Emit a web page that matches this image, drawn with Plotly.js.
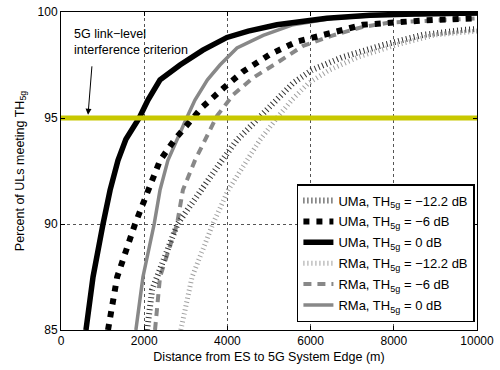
<!DOCTYPE html>
<html>
<head>
<meta charset="utf-8">
<script src="https://cdn.plot.ly/plotly-3.0.1.min.js"></script>
<style>html,body{margin:0;padding:0;background:#fff;}#chart{width:500px;height:370px;}</style>
</head>
<body>
<div id="chart"></div>
<script>
// Distance (m) and percent of ULs meeting TH_5g
var umaM12_x = [2070, 2190, 2800, 3350, 3870, 4230, 4740, 5140, 5580, 6030, 6780, 7740, 8700, 9660, 10000];
var umaM12_y = [85, 86.9, 90, 91.6, 93, 93.96, 95, 95.85, 96.65, 97.26, 97.88, 98.44, 98.92, 99.15, 99.2];

var umaM6_x = [1130, 1350, 1780, 2090, 2380, 2740, 3150, 3390, 3900, 4380, 5020, 5670, 6470, 7260, 8700, 10000];
var umaM6_y = [85, 87.5, 90, 91.6, 93, 94, 95, 95.5, 96.4, 97.2, 98.0, 98.6, 99.0, 99.4, 99.6, 99.7];

var uma0_x = [600, 770, 1010, 1180, 1370, 1560, 1880, 2090, 2380, 2860, 3410, 3990, 4500, 5190, 6390, 7430, 8500, 10000];
var uma0_y = [85, 87.5, 90, 91.6, 93, 94, 95, 95.85, 96.8, 97.5, 98.2, 98.8, 99.1, 99.4, 99.7, 99.85, 99.9, 99.95];

var rmaM12_x = [2880, 3150, 3650, 4020, 4470, 4780, 5190, 5550, 5950, 6450, 7150, 8050, 9000, 10000];
var rmaM12_y = [85, 87.5, 90, 91.6, 93, 93.96, 95, 95.85, 96.65, 97.26, 97.88, 98.44, 98.92, 99.1];

var rmaM6_x = [2260, 2380, 2790, 2930, 3220, 3460, 3750, 4140, 4620, 5190, 5820, 6540, 7260, 7900, 10000];
var rmaM6_y = [85, 87.5, 90, 91.6, 93, 94, 95.1, 96.1, 96.9, 97.6, 98.4, 98.9, 99.3, 99.5, 99.7];

var rma0_x = [1800, 1970, 2240, 2380, 2570, 2790, 3020, 3220, 3520, 3820, 4230, 4860, 5580, 6540, 7700, 10000];
var rma0_y = [85, 87.5, 90, 91.6, 93, 94, 95, 95.85, 96.8, 97.5, 98.3, 98.9, 99.4, 99.7, 99.85, 99.9];

var criterion_x = [0, 10000];
var criterion_y = [95, 95];

var seriesNames = [
  'UMa, TH<sub>5g</sub> = \u221212.2 dB',
  'UMa, TH<sub>5g</sub> = \u22126 dB',
  'UMa, TH<sub>5g</sub> = 0 dB',
  'RMa, TH<sub>5g</sub> = \u221212.2 dB',
  'RMa, TH<sub>5g</sub> = \u22126 dB',
  'RMa, TH<sub>5g</sub> = 0 dB'
];

var xTicks = [0, 2000, 4000, 6000, 8000, 10000];
var yTicks = [85, 90, 95, 100];

var traces = [
  {x: rmaM12_x, y: rmaM12_y, name: seriesNames[3], mode: 'lines', legendrank: 4, legendgroup: 'g4',
   line: {color: '#a0a0a0', width: 5, dash: '1px,3px'}},
  {x: rmaM6_x, y: rmaM6_y, name: seriesNames[4], mode: 'lines', legendrank: 5, legendgroup: 'g5',
   line: {color: '#888888', width: 4, dash: '8px,6px'}},
  {x: rma0_x, y: rma0_y, name: seriesNames[5], mode: 'lines', legendrank: 6, legendgroup: 'g6',
   line: {color: '#888888', width: 3.5}},
  {x: umaM12_x, y: umaM12_y, name: seriesNames[0], mode: 'lines', legendrank: 1, legendgroup: 'g1',
   line: {color: '#333333', width: 6, dash: '1px,3px'}},
  {x: umaM6_x, y: umaM6_y, name: seriesNames[1], mode: 'lines', legendrank: 2, legendgroup: 'g2',
   line: {color: '#000000', width: 6, dash: '6px,7px'}},
  {x: uma0_x, y: uma0_y, name: seriesNames[2], mode: 'lines', legendrank: 3, legendgroup: 'g3',
   line: {color: '#000000', width: 5.5}},
  {x: criterion_x, y: criterion_y, mode: 'lines', showlegend: false, hoverinfo: 'skip',
   line: {color: '#c8c800', width: 5}, cliponaxis: false}
];

var font = {family: 'Liberation Sans, Arial, sans-serif', size: 12, color: '#000'};

var layout = {
  width: 500, height: 370,
  margin: {l: 61, r: 23, t: 12, b: 40},
  paper_bgcolor: '#fff', plot_bgcolor: '#fff',
  font: font,
  showlegend: true,
  legend: {
    x: 0.995, y: 0.025, xanchor: 'right', yanchor: 'bottom',
    bgcolor: '#fff', bordercolor: '#000', borderwidth: 1.5,
    font: {family: font.family, size: 13, color: '#000'},
    tracegroupgap: 1
  },
  xaxis: {
    range: [0, 10000], tickvals: xTicks, ticktext: xTicks.map(String),
    ticks: 'inside', ticklen: 4, tickcolor: '#000',
    showline: true, linecolor: '#000', linewidth: 1, mirror: 'ticks',
    showgrid: true, gridcolor: '#555', griddash: 'dot', gridwidth: 1,
    zeroline: false,
    title: {text: 'Distance from ES to 5G System Edge (m)', standoff: 4, font: {size: 12.5}}
  },
  yaxis: {
    range: [85, 100], tickvals: yTicks, ticktext: yTicks.map(String),
    ticks: 'inside', ticklen: 4, tickcolor: '#000',
    showline: true, linecolor: '#000', linewidth: 1, mirror: 'ticks',
    showgrid: true, gridcolor: '#555', griddash: 'dot', gridwidth: 1,
    zeroline: false,
    title: {text: 'Percent of ULs meeting TH<sub>5g</sub>', standoff: 10, font: {size: 12.5}}
  },
  annotations: [
    {xref: 'paper', yref: 'paper', x: 0.026, y: 0.96, xanchor: 'left', yanchor: 'top',
     align: 'left', showarrow: false,
     text: '5G link\u2212level<br>interference criterion', font: {size: 12.5}},
    {xref: 'x', yref: 'y', x: 650, y: 95.15, text: '', showarrow: true,
     ax: 4, ay: -50, arrowhead: 2, arrowsize: 1.2, arrowwidth: 1, arrowcolor: '#000'}
  ]
};

Plotly.newPlot('chart', traces, layout, {displayModeBar: false, staticPlot: true});
</script>
</body>
</html>
